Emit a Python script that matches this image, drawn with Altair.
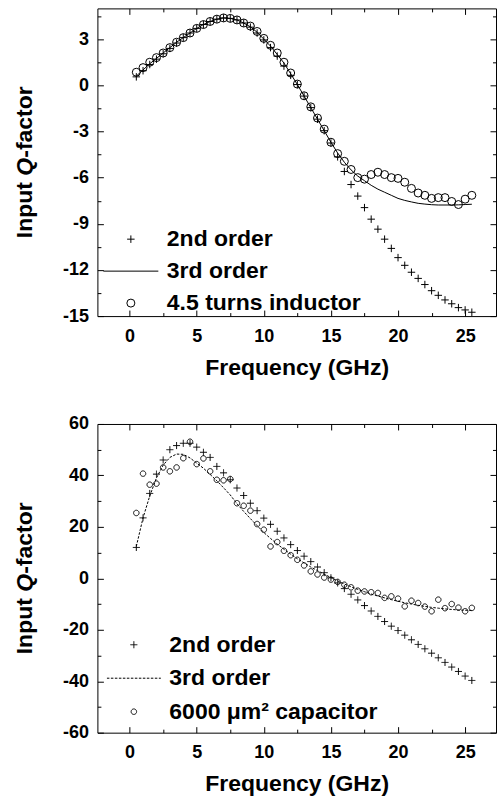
import altair as alt
import pandas as pd

FONT = "Liberation Sans"

# frequency grid (GHz)
freq = [0.5, 1.0, 1.5, 2.0, 2.5, 3.0, 3.5, 4.0, 4.5, 5.0,
        5.5, 6.0, 6.5, 7.0, 7.5, 8.0, 8.5, 9.0, 9.5, 10.0,
        10.5, 11.0, 11.5, 12.0, 12.5, 13.0, 13.5, 14.0, 14.5, 15.0,
        15.5, 16.0, 16.5, 17.0, 17.5, 18.0, 18.5, 19.0, 19.5, 20.0,
        20.5, 21.0, 21.5, 22.0, 22.5, 23.0, 23.5, 24.0, 24.5, 25.0, 25.5]

# inductor panel
ind_2nd = [0.55, 0.95, 1.35, 1.7, 2.05, 2.4, 2.75, 3.1, 3.4, 3.7,
           3.95, 4.15, 4.3, 4.38, 4.35, 4.25, 4.05, 3.78, 3.4, 2.95,
           2.45, 1.9, 1.25, 0.65, 0.05, -0.7, -1.45, -2.2, -2.95, -3.75,
           -4.65, -5.6, -6.45, -7.2, -7.95, -8.7, -9.35, -10.0, -10.6, -11.2,
           -11.7, -12.15, -12.55, -12.95, -13.35, -13.65, -13.95, -14.2, -14.45, -14.6, -14.75]
ind_3rd = [0.6, 1.0, 1.4, 1.75, 2.1, 2.45, 2.8, 3.1, 3.4, 3.7,
           3.95, 4.15, 4.3, 4.38, 4.35, 4.25, 4.05, 3.8, 3.45, 3.0,
           2.55, 2.0, 1.45, 0.75, 0.05, -0.7, -1.45, -2.2, -2.95, -3.7,
           -4.4, -5.0, -5.5, -5.9, -6.2, -6.5, -6.75, -6.95, -7.15, -7.35,
           -7.48, -7.58, -7.67, -7.72, -7.76, -7.78, -7.78, -7.78, -7.77, -7.75, -7.73]
ind_meas = [0.85, 1.15, 1.5, 1.8, 2.1, 2.45, 2.8, 3.1, 3.4, 3.7,
            3.95, 4.15, 4.3, 4.38, 4.35, 4.25, 4.05, 3.85, 3.5, 3.05,
            2.6, 2.1, 1.5, 0.8, 0.08, -0.68, -1.4, -2.13, -2.85, -3.7,
            -4.44, -4.94, -5.47, -6.0, -6.1, -5.8, -5.65, -5.8, -6.0, -6.05,
            -6.3, -6.7, -7.0, -7.15, -7.35, -7.3, -7.3, -7.55, -7.75, -7.4, -7.15]

# capacitor panel
cap_2nd = [12.0, 23.5, 33.0, 40.5, 46.0, 50.0, 51.6, 52.5, 52.5, 51.0,
           49.0, 47.0, 43.5, 41.0, 38.3, 35.1, 32.2, 29.2, 26.3, 23.4,
           21.0, 18.3, 15.7, 13.1, 10.8, 8.6, 6.5, 4.4, 2.2, 0.2,
           -1.8, -4.0, -6.2, -8.4, -10.6, -12.7, -14.8, -16.8, -18.6, -20.3,
           -22.1, -23.9, -25.7, -27.4, -29.1, -30.9, -32.7, -34.5, -36.2, -38.0, -39.7]
cap_3rd = [12.4, 23.5, 32.0, 39.0, 44.0, 47.0, 48.3, 48.2, 46.8, 44.8,
           42.8, 40.4, 37.9, 35.2, 32.4, 29.0, 26.0, 23.2, 20.5, 17.8,
           15.5, 13.3, 11.3, 9.4, 7.6, 6.0, 4.4, 3.0, 1.6, 0.3,
           -1.0, -2.2, -3.3, -4.3, -5.2, -6.1, -6.9, -7.6, -8.3, -8.9,
           -9.5, -10.0, -10.5, -10.9, -11.3, -11.6, -11.9, -12.1, -12.3, -12.4, -12.5]
cap_meas = [25.4, 40.7, 36.4, 36.8, 43.1, 41.6, 43.1, 46.7, 53.1, 44.4,
            46.6, 41.6, 38.3, 38.1, 38.6, 29.2, 28.2, 26.3, 21.1, 18.9,
            12.4, 14.1, 10.7, 9.0, 7.2, 5.0, 2.7, 1.5, 0.3, -0.5,
            -1.4, -2.5, -3.5, -4.8, -5.1, -5.4, -5.7, -7.6, -7.0, -7.9,
            -10.9, -8.7, -9.6, -11.0, -12.8, -8.3, -11.6, -10.0, -11.4, -12.8, -11.5]

ind_names = ["2nd order", "3rd order", "4.5 turns inductor"]
cap_names = ["2nd order", "3rd order", "6000 \u03bcm\u00b2 capacitor"]

# y-axis title, drawn in three runs so the Q can be italic
y_title_runs = ["Input ", "Q", "-factor"]
x_title = "Frequency (GHz)"

x_major = [0, 5, 10, 15, 20, 25]
x_minor = [2.5, 7.5, 12.5, 17.5, 22.5]
ind_y_major = [-15, -12, -9, -6, -3, 0, 3]
ind_y_minor = [-13.5, -10.5, -7.5, -4.5, -1.5, 1.5, 4.5]
cap_y_major = [-60, -40, -20, 0, 20, 40, 60]
cap_y_minor = [-50, -30, -10, 10, 30, 50]

PLUS = "M-1,0H1M0,-1V1"
MAJOR = 6
MINOR = 3.5
PLOT_W = 399
TITLE_SIZE = 23
# plain hyphen for negative tick labels
HYPHEN_LABEL = "'' + datum.value"

# Arial/Liberation Sans Bold advance widths (em) of the title runs
RUN_EM = [2.722, 0.778, 3.111]


def long_frame(names, s2, s3, sm):
    rows = []
    for name, vals in zip(names, (s2, s3, sm)):
        for f, v in zip(freq, vals):
            rows.append({"freq": f, "q": v, "series": name})
    return pd.DataFrame(rows)


def tick_axis(orient, values, size, **kw):
    base = dict(orient=orient, values=values, tickSize=size, offset=-size,
                domain=False, grid=False, tickColor="black", tickWidth=1,
                labels=False, title=None)
    base.update(kw)
    return alt.Axis(**base)


def y_title_layers(height):
    widths = [e * TITLE_SIZE for e in RUN_EM]
    half = sum(widths) / 2
    q_mid = -half + widths[0] + widths[1] / 2
    specs = [("left", "normal", -half), ("center", "italic", q_mid),
             ("right", "normal", half)]
    layers = []
    for run, (align, style, dx) in zip(y_title_runs, specs):
        layers.append(
            alt.Chart(pd.DataFrame({"run": [run]})).mark_text(
                angle=270, align=align, baseline="middle", dx=dx,
                font=FONT, fontSize=TITLE_SIZE, fontWeight="bold",
                fontStyle=style, color="black",
            ).encode(text="run:N", x=alt.value(-72), y=alt.value(height / 2))
        )
    return layers


def panel(df, names, ydom, y_major, y_minor, sizes, legend_x, legend_y,
          row_pad, height, dash=None):
    xs = alt.Scale(domain=[-2.4, 27.3], nice=False, zero=False)
    ys = alt.Scale(domain=ydom, nice=False, zero=False)
    legend = alt.Legend(
        orient="none", legendX=legend_x, legendY=legend_y, title=None,
        labelFont=FONT, labelFontSize=23, labelFontWeight="bold",
        labelColor="black", labelLimit=400, labelOffset=8,
        symbolStrokeColor="black", symbolFillColor="transparent",
        symbolStrokeWidth=1, symbolOpacity=1, clipHeight=23,
        rowPadding=row_pad, padding=0,
    )
    main_x = tick_axis("bottom", x_major, MAJOR, labels=True,
                       labelFont=FONT, labelFontSize=18, labelFontWeight="bold",
                       labelColor="black", labelPadding=11,
                       labelExpr=HYPHEN_LABEL,
                       title=x_title, titleFont=FONT,
                       titleFontSize=TITLE_SIZE, titleFontWeight="bold",
                       titleColor="black", titlePadding=11)
    main_y = tick_axis("left", y_major, MAJOR, labels=True,
                       labelFont=FONT, labelFontSize=18, labelFontWeight="bold",
                       labelColor="black", labelPadding=9,
                       labelExpr=HYPHEN_LABEL)

    enc = dict(
        shape=alt.Shape("series:N", legend=legend,
                        scale=alt.Scale(type="ordinal", domain=names,
                                        range=[PLUS, "stroke", "circle"])),
        size=alt.Size("series:N", legend=legend,
                      scale=alt.Scale(type="ordinal", domain=names, range=sizes)),
    )
    if dash is not None:
        enc["strokeDash"] = alt.StrokeDash(
            "series:N", legend=legend,
            scale=alt.Scale(type="ordinal", domain=names,
                            range=[[1, 0], dash, [1, 0]]))

    points = alt.Chart(df).transform_filter(
        alt.datum.series != names[1]
    ).mark_point(filled=False, color="black", strokeWidth=1, opacity=1).encode(
        x=alt.X("freq:Q", scale=xs, axis=main_x),
        y=alt.Y("q:Q", scale=ys, axis=main_y),
        **enc,
    )

    line_kw = dict(color="black", strokeWidth=1)
    if dash is not None:
        line_kw["strokeDash"] = dash
    fit = alt.Chart(df).transform_filter(
        alt.datum.series == names[1]
    ).mark_line(**line_kw).encode(
        x=alt.X("freq:Q", scale=xs, axis=None),
        y=alt.Y("q:Q", scale=ys, axis=None),
    )

    def ticks_only(xa, ya):
        return alt.Chart(df).mark_point(opacity=0, size=1).encode(
            x=alt.X("freq:Q", scale=xs, axis=xa),
            y=alt.Y("q:Q", scale=ys, axis=ya),
        )

    minor_bl = ticks_only(tick_axis("bottom", x_minor, MINOR),
                          tick_axis("left", y_minor, MINOR))
    major_tr = ticks_only(tick_axis("top", x_major, MAJOR),
                          tick_axis("right", y_major, MAJOR))
    minor_tr = ticks_only(tick_axis("top", x_minor, MINOR),
                          tick_axis("right", y_minor, MINOR))

    return alt.layer(fit, points, minor_bl, major_tr, minor_tr,
                     *y_title_layers(height)).resolve_axis(
        x="independent", y="independent"
    ).properties(width=PLOT_W, height=height)


top = panel(long_frame(ind_names, ind_2nd, ind_3rd, ind_meas), ind_names,
            [-15, 5], ind_y_major, ind_y_minor, [56, 3025, 64],
            legend_x=5.5, legend_y=219.5, row_pad=8, height=308)
bottom = panel(long_frame(cap_names, cap_2nd, cap_3rd, cap_meas), cap_names,
               [-60, 60], cap_y_major, cap_y_minor, [49, 2916, 30],
               legend_x=9, legend_y=209.5, row_pad=9.5, height=309,
               dash=[2.5, 1.5])

chart = alt.vconcat(top, bottom, spacing=108, bounds="flush").resolve_scale(
    x="independent", y="independent", shape="independent",
    size="independent", strokeDash="independent",
).configure_view(
    stroke="black", strokeWidth=1
).properties(
    padding={"left": 13.5, "top": 7, "right": 0, "bottom": 0},
    background="white",
)

chart.save("out.html", embed_options={"renderer": "svg", "actions": False})
